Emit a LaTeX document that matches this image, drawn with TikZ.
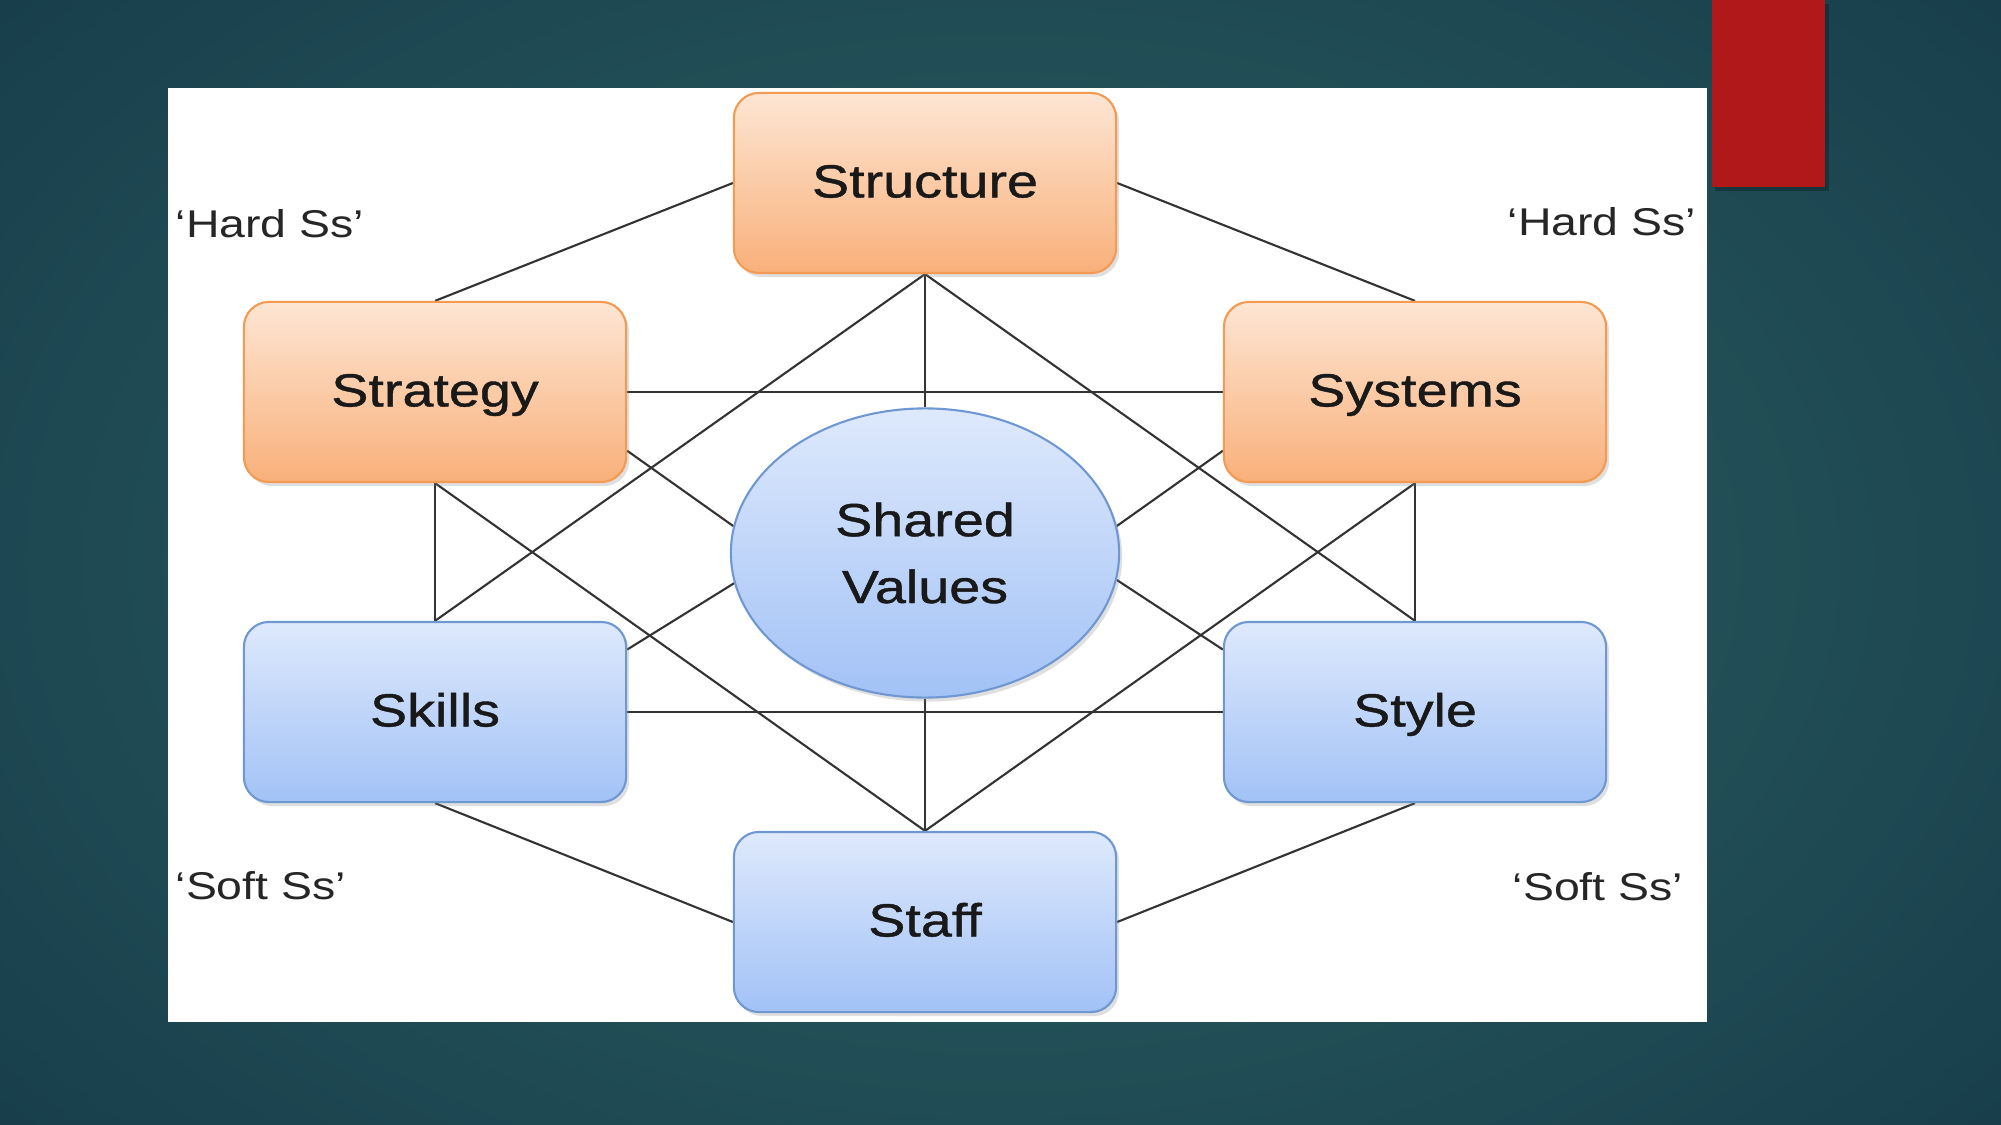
\documentclass[tikz,border=0pt]{standalone}
\usepackage{fontspec}
\newfontfamily\dfont[FakeStretch=1.2]{Liberation Sans}
\newfontfamily\nfont[FakeStretch=1.2,FakeBold=0.9]{Liberation Sans}
\usetikzlibrary{shadows,shapes.geometric,calc}
\pgfdeclarelayer{back}
\pgfdeclarelayer{lines}
\pgfsetlayers{back,lines,main}
\definecolor{orT}{HTML}{FDE6D4}
\definecolor{orB}{HTML}{F9B07A}
\definecolor{orD}{HTML}{F59A52}
\definecolor{blT}{HTML}{DEE9FC}
\definecolor{blB}{HTML}{A2C2F6}
\definecolor{blD}{HTML}{6F98D3}
\definecolor{bgIn}{HTML}{2E6464}
\definecolor{bgOut}{HTML}{183E4C}
\definecolor{redbar}{HTML}{B0181A}
\begin{document}
\begin{tikzpicture}[x=0.01cm,y=-0.01cm,
  sbox/.style={rounded corners=0.25cm, minimum width=3.82cm, minimum height=1.8cm,
    line width=0.6pt, inner sep=0pt, text=black!90, text height=11pt, text depth=2.8pt,
    drop shadow={opacity=0.25, shadow xshift=0.03cm, shadow yshift=-0.04cm},
    font={\nfont\fontsize{13.2pt}{19pt}\selectfont}},
  hardbox/.style={sbox, draw=orD, top color=orT, bottom color=orB},
  softbox/.style={sbox, draw=blD, top color=blT, bottom color=blB},
  link/.style={draw=black!80, line width=0.6pt},
  lbl/.style={anchor=base west, inner sep=0pt, text=black!85,
    font={\dfont\fontsize{11pt}{13pt}\selectfont}}]
\useasboundingbox (0,0) rectangle (2001,1125);
\begin{pgfonlayer}{back}
  \shade[inner color=bgIn, outer color=bgOut] (-300,-300) rectangle (2301,1425);
  \fill[white] (168,88) rectangle (1707,1022);
  \fill[black, opacity=0.25] (1715,4) rectangle (1829,191);
  \fill[redbar] (1712,0) rectangle (1825,187);
\end{pgfonlayer}

\node[hardbox] (struct) at (925,183) {Structure};
\node[hardbox] (strat) at (435,392) {Strategy};
\node[hardbox] (syst) at (1415,392) {Systems};
\node[softbox] (skill) at (435,712) {Skills};
\node[softbox] (style) at (1415,712) {Style};
\node[softbox] (staff) at (925,922) {Staff};
\node[ellipse, draw=blD, line width=0.6pt, top color=blT, bottom color=blB,
  minimum width=3.88cm, minimum height=2.89cm, inner sep=0pt, text=black!90,
  drop shadow={opacity=0.25, shadow xshift=0.03cm, shadow yshift=-0.04cm},
  align=center, font={\nfont\fontsize{13.2pt}{19pt}\selectfont}] (sv) at (925,553) {Shared\\Values};

\node[lbl] (h1) at (175,238) {‘Hard Ss’};
\node[lbl] (h2) at (1507,236) {‘Hard Ss’};
\node[lbl] (s1) at (175,899) {‘Soft Ss’};
\node[lbl] (s2) at (1512,900) {‘Soft Ss’};

\begin{pgfonlayer}{lines}
  \draw[link] (struct.west) -- (strat.north);
  \draw[link] (struct.east) -- (syst.north);
  \draw[link] (struct.south) -- (skill.north);
  \draw[link] (struct.south) -- (style.north);
  \draw[link] (struct.south) -- (sv.north);
  \draw[link] (strat.east) -- (syst.west);
  \draw[link] (strat.south) -- (skill.north);
  \draw[link] (strat.south) -- (staff.north);
  \draw[link] (strat.-17.7) -- (sv.172);
  \draw[link] (syst.south) -- (style.north);
  \draw[link] (syst.south) -- (staff.north);
  \draw[link] (syst.197.7) -- (sv.8);
  \draw[link] (skill.east) -- (style.west);
  \draw[link] (skill.18) -- (sv.-171);
  \draw[link] (style.162) -- (sv.-8);
  \draw[link] (skill.south) -- (staff.west);
  \draw[link] (style.south) -- (staff.east);
  \draw[link] (sv.south) -- (staff.north);
\end{pgfonlayer}
\end{tikzpicture}
\end{document}
